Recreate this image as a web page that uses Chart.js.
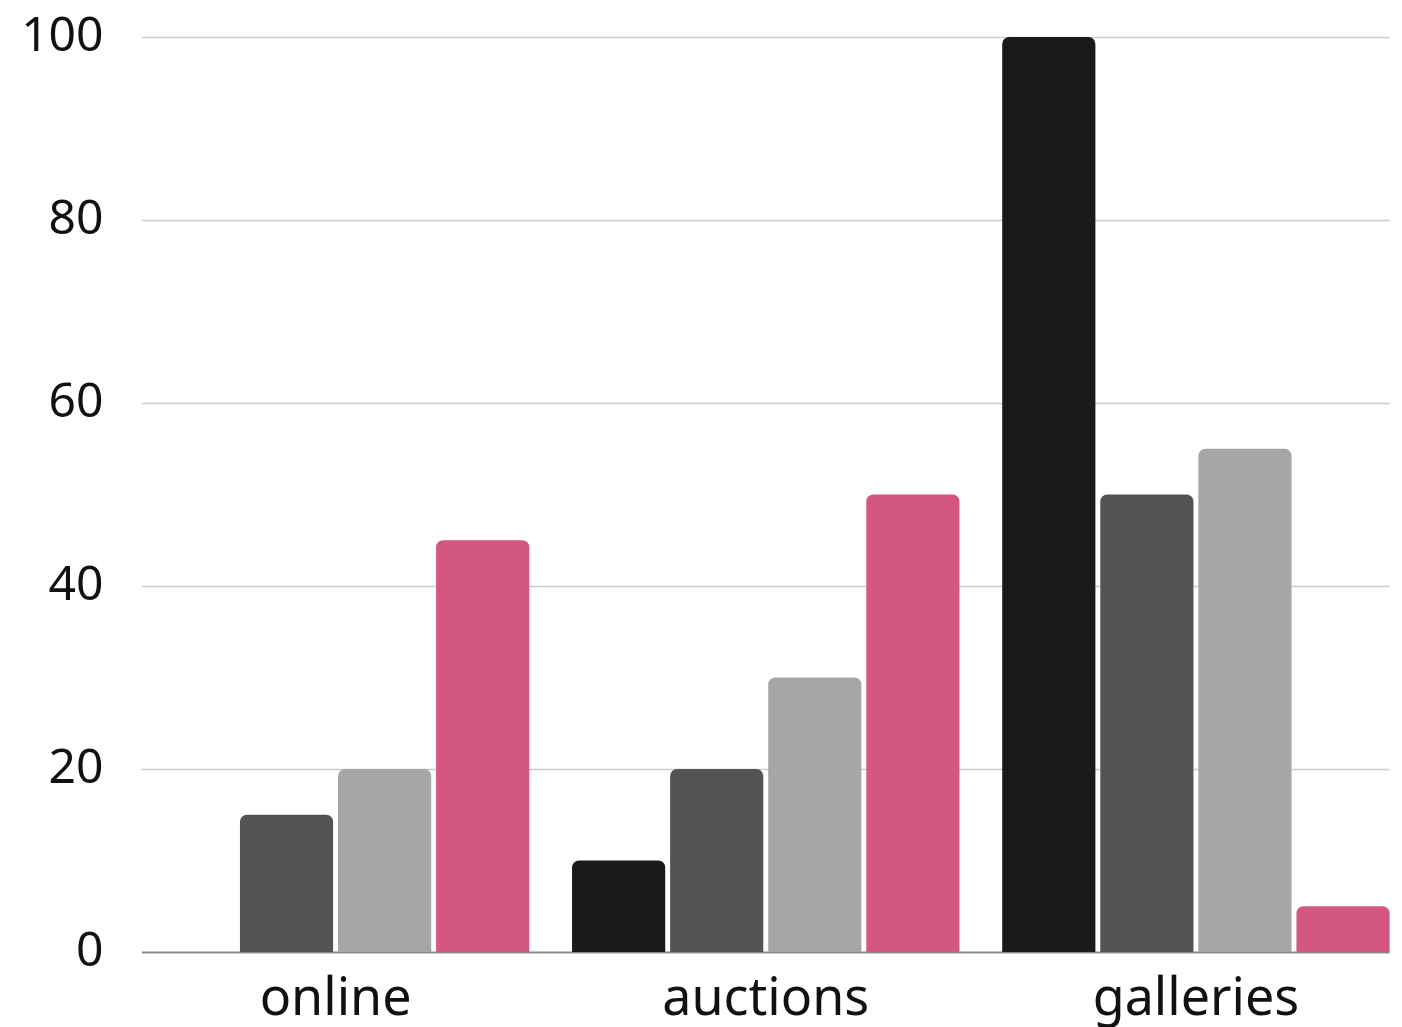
<!DOCTYPE html>
<html lang="en">
<head>
    <meta charset="UTF-8">
    <title>Sales channels</title>
    <script src="https://cdn.jsdelivr.net/npm/chart.js"></script>
    <style>
        html, body { margin: 0; padding: 0; background: #fff; overflow: hidden; }
        .chart-container { position: relative; width: 1420px; height: 1027px; }
    </style>
</head>
<body>
    <div class="chart-container">
        <canvas id="salesChart"></canvas>
    </div>

    <script>
        const categories = ['online', 'auctions', 'galleries'];
        const seriesA = [0, 10, 100];
        const seriesB = [15, 20, 50];
        const seriesC = [20, 30, 55];
        const seriesD = [45, 50, 5];
        const yTicks = [0, 20, 40, 60, 80, 100];

        const colors = ['#1a1a1a', '#545454', '#a6a6a6', '#d35683'];
        const fontFamily = '"Noto Sans", sans-serif';

        // grid lines span from the first bar to the last bar, like the original
        const gridPlugin = {
            id: 'barGrid',
            beforeDatasetsDraw(chart) {
                const y = chart.scales.y;
                const first = chart.getDatasetMeta(0).data[0];
                const lastMeta = chart.getDatasetMeta(chart.data.datasets.length - 1);
                const last = lastMeta.data[lastMeta.data.length - 1];
                const left = first.x - first.width / 2;
                const right = last.x + last.width / 2;
                const ctx = chart.ctx;
                ctx.save();
                yTicks.forEach(v => {
                    const py = Math.round(y.getPixelForValue(v)) + 0.5;
                    ctx.beginPath();
                    ctx.strokeStyle = v === 0 ? '#8a8a8a' : '#cccccc';
                    ctx.lineWidth = v === 0 ? 2 : 1.5;
                    ctx.moveTo(left, py);
                    ctx.lineTo(right, py);
                    ctx.stroke();
                });
                ctx.restore();
            }
        };

        const makeSet = (data, i) => ({
            data: data,
            backgroundColor: colors[i],
            borderRadius: { topLeft: 7, topRight: 7 },
            borderSkipped: 'bottom',
            barPercentage: 0.95,
            categoryPercentage: 0.912
        });

        new Chart(document.getElementById('salesChart'), {
            type: 'bar',
            data: {
                labels: categories,
                datasets: [seriesA, seriesB, seriesC, seriesD].map(makeSet)
            },
            options: {
                responsive: true,
                maintainAspectRatio: false,
                animation: false,
                layout: { padding: { top: 37, right: 9, left: 0, bottom: 0 } },
                plugins: {
                    legend: { display: false },
                    tooltip: { enabled: false }
                },
                scales: {
                    x: {
                        grid: { display: false, drawTicks: false },
                        border: { display: false },
                        ticks: {
                            color: '#111',
                            padding: 17,
                            font: { family: fontFamily, size: 52 }
                        },
                        afterFit(scale) {
                            scale.height = 75;
                            scale.paddingLeft = 0;
                            scale.paddingRight = 0;
                        }
                    },
                    y: {
                        min: 0,
                        max: 100,
                        afterBuildTicks(scale) { scale.ticks = yTicks.map(v => ({ value: v })); },
                        grid: { display: false, drawTicks: false },
                        border: { display: false },
                        ticks: {
                            color: '#111',
                            padding: 17,
                            font: { family: fontFamily, size: 48 }
                        },
                        afterFit(scale) {
                            scale.width = 120.5;
                            scale.paddingTop = 0;
                            scale.paddingBottom = 0;
                        }
                    }
                }
            },
            plugins: [gridPlugin]
        });
    </script>
</body>
</html>
